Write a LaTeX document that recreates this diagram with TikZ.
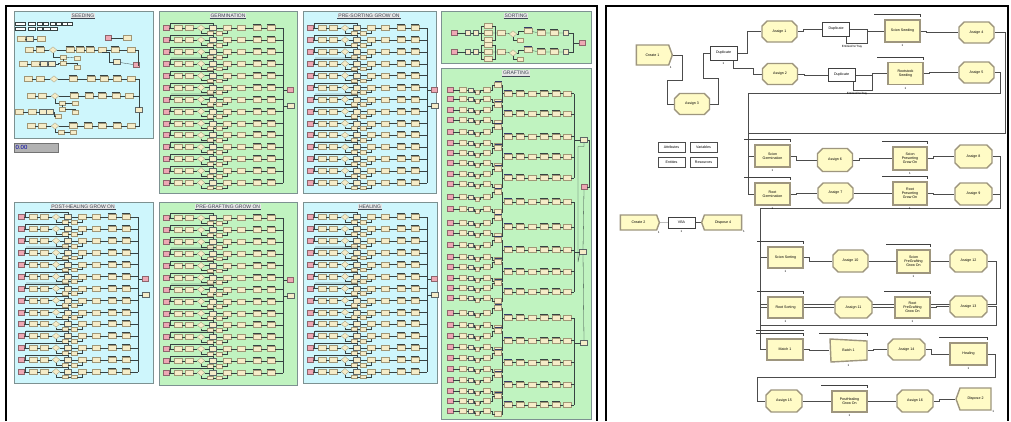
\documentclass[tikz,border=0pt]{standalone}
\usepackage{fontspec}
\setmainfont{Liberation Sans}
\usetikzlibrary{shapes.misc,shapes.symbols,shapes.geometric}
\pgfdeclarelayer{back}
\pgfdeclarelayer{bg}
\pgfsetlayers{back,bg,main}

\definecolor{cyanbg}{RGB}{206,246,252}
\definecolor{greenbg}{RGB}{192,243,192}
\definecolor{panelline}{RGB}{125,145,145}
\definecolor{beige}{RGB}{245,236,200}
\definecolor{beigeline}{RGB}{160,150,118}
\definecolor{pinkbox}{RGB}{238,168,180}
\definecolor{flow}{RGB}{55,66,66}
\definecolor{ayellow}{RGB}{255,251,198}
\definecolor{aborder}{RGB}{158,150,126}
\definecolor{titletext}{RGB}{60,70,82}
\definecolor{barblue}{RGB}{50,60,105}

\newcommand\arenafont{\fontsize{3.6}{4.1}\selectfont}
\newcommand\onefont{\fontsize{3}{3}\selectfont}

\tikzset{
 panel/.style={draw=panelline,line width=0.8pt},
 ln/.style={draw=flow,line width=0.3pt},
 bar/.style={draw=flow,line width=0.55pt},
 bx/.style={rectangle,draw=beigeline,fill=beige,line width=0.3pt,minimum width=8.5pt,minimum height=5pt,inner sep=0pt,outer sep=0pt},
 bxd/.style={bx,draw=flow!80,line width=0.4pt,minimum width=7pt},
 bxs/.style={bx,minimum width=6pt,minimum height=3.8pt},
 bxb/.style={bx,append after command={([yshift=0.9pt]\tikzlastnode.north west) edge[bar] ([yshift=0.9pt]\tikzlastnode.north east)}},
 bxB/.style={bx,append after command={([yshift=1pt]\tikzlastnode.north west) edge[draw=barblue,line width=1pt] ([yshift=1pt]\tikzlastnode.north east)}},
 pk/.style={bx,fill=pinkbox,draw=pinkbox!60!black,minimum width=6.5pt},
 dm/.style={diamond,draw=beigeline,fill=beige,line width=0.3pt,minimum width=7.5pt,minimum height=6.5pt,inner sep=0pt},
 lgd/.style={rectangle,draw=flow,fill=white,line width=0.3pt,minimum width=5pt,minimum height=3pt,inner sep=0pt},
 ttl/.style={font=\fontsize{5}{5}\selectfont,text=titletext,fill=black!10,inner sep=0.8pt},
 asg/.style={chamfered rectangle,chamfered rectangle xsep=3pt,fill=ayellow,draw=aborder,line width=1.4pt,minimum width=35pt,minimum height=21pt,inner sep=0pt,font=\arenafont},
 proc/.style={rectangle,fill=ayellow,draw=aborder,line width=1.4pt,minimum width=35pt,minimum height=22pt,inner sep=0.5pt,align=center,font=\arenafont},
 dupl/.style={rectangle,fill=white,draw=black!75,line width=0.4pt,minimum width=27pt,minimum height=14pt,inner sep=0pt,font=\arenafont},
 crt/.style={signal,signal to=east,signal pointer angle=140,fill=ayellow,draw=aborder,line width=1.4pt,minimum width=36pt,minimum height=20pt,inner sep=0pt,font=\arenafont},
 dsp/.style={crt,signal to=west},
 data/.style={rectangle,fill=white,draw=black!70,line width=0.4pt,minimum width=27pt,minimum height=10pt,inner sep=0pt,font=\arenafont},
 cn/.style={draw=black!70,line width=0.45pt},
 rbar/.style={draw=black!75,line width=0.45pt},
 one/.style={font=\onefont,inner sep=0.5pt},
 expr/.style={font=\onefont,inner sep=0pt},
}

% ---------- left panel helpers ----------
\newcommand\stdrow[3]{%
 \node[pk] (#3p) at ({#1+7},#2) {};
 \node[bx] (#3a) at ({#1+19},#2) {};
 \node[bx] (#3b) at ({#1+30},#2) {};
 \node[dm] (#3c) at ({#1+42},#2) {};
 \node[bxd] (#3d) at ({#1+54},#2) {};
 \node[bxs] (#3i) at ({#1+51},{#2+5}) {};
 \node[bxs] (#3j) at ({#1+60},{#2+5}) {};
 \node[bx] (#3e) at ({#1+68},#2) {};
 \node[bx] (#3f) at ({#1+82},#2) {};
 \node[bxb] (#3g) at ({#1+98},#2) {};
 \node[bxb] (#3h) at ({#1+112},#2) {};
 \draw[ln] (#3p)--(#3a)--(#3b)--(#3c)--(#3d)--(#3e)--(#3f)--(#3g)--(#3h)--({#1+124},#2);
 \draw[ln] (#3c.south) |- (#3i.west);
 \draw[ln] (#3i)--(#3j);
 \draw[ln] (#3j.east) -| (#3e.south);
 \draw[ln] ({#1+11},#2) -- ({#1+11},{#2-4.5}) -| (#3d.north);
}
\newcommand\rows[3]{%
 \foreach \rr in {0,...,13}{%
   \pgfmathsetmacro\yy{#2+11.9*\rr}
   \stdrow{#1}{\yy}{#3\rr}
 }
 \foreach \rr in {3,6,10}{%
   \pgfmathsetmacro\yy{#2+11.9*\rr}
   \fill[flow,opacity=0.15] ({#1+12},{\yy-6.4}) rectangle ({#1+57},{\yy-4.2});
 }
 \draw[ln,line width=0.6pt] ({#1+124},#2) -- ({#1+124},{#2+11.9*13});
 \node[pk] (#3out) at ({#1+131},{#2+62}) {};
 \node[bxd] (#3box) at ({#1+132},{#2+78}) {};
 \draw[ln] ({#1+124},{#2+62}) -- (#3out);
 \draw[ln] ({#1+124},{#2+78}) -- (#3box);
}
\newcommand\chain[3]{%
 \foreach \xx/\ty [count=\kk, remember=\kk as \prevk (initially 0)] in {#2}{%
  \node[\ty] (#3-\kk) at (\xx,#1) {};
  \ifnum\kk>1 \draw[ln] (#3-\prevk) -- (#3-\kk);\fi
 }}
\newcommand\sortrow[2]{%
 \node[pk] (#2p) at (454,#1) {};
 \node[bxd,minimum width=5pt] (#2a) at (468,#1) {};
 \node[bxd,minimum width=5pt] (#2b) at (476,#1) {};
 \node[bx] (#2s1) at (488,{#1-7}) {};
 \node[bx] (#2s2) at (488,#1) {};
 \node[bx] (#2s3) at (488,{#1+7}) {};
 \node[bx] (#2c) at (501,#1) {};
 \node[dm] (#2d) at (513,{#1+1}) {};
 \node[bxs] (#2e) at (520,{#1+7}) {};
 \node[bxB] (#2f) at (528,{#1-2}) {};
 \node[bxb] (#2g) at (541,#1) {};
 \node[bxb] (#2h) at (554,#1) {};
 \node[bxd,minimum width=5pt] (#2i) at (566,#1) {};
 \draw[ln] (#2p)--(#2a)--(#2b);
 \draw[ln] (#2b.east) -- ++(3,0) |- (#2s1.west);
 \draw[ln] (#2b.east) -- (#2s2.west);
 \draw[ln] (#2b.east) -- ++(3,0) |- (#2s3.west);
 \draw[ln] (#2s1.east) -- ++(2.5,0) |- (#2s3.east);
 \draw[ln] (#2s2)--(#2c)--(#2d);
 \draw[ln] (#2d.south) |- (#2e.west);
 \draw[ln] (#2d.east) -- ++(1.5,0) |- (#2f.west);
 \draw[ln] (#2f)--(#2g)--(#2h)--(#2i);
}
\newcommand\grin[2]{%
 \node[pk] (#2p) at (450,#1) {};
 \node[bx,minimum width=7pt] (#2a) at (463,#1) {};
 \node[bxd,minimum width=5pt,minimum height=4pt] (#2b) at (471,#1) {};
 \node[bxs,minimum width=4pt] (#2s) at (477.5,{#1+2.5}) {};
 \node[bx,minimum width=7pt] (#2c) at (487,#1) {};
 \draw[ln] (#2p)--(#2a)--(#2b);
 \draw[ln] (#2b.east) -- ++(1,0) |- (#2s.west);
 \draw[ln] (#2s.east) -- ++(1,0) |- (#2c.west);
}
\newcommand\grpair[3]{%
 \grin{#1}{#3u}
 \grin{#2}{#3d}
 \node[bxB,minimum width=7pt] (#3u4) at (498,{#1-5}) {};
 \node[bx,minimum width=7pt] (#3d4) at (498,{#2+3}) {};
 \pgfmathsetmacro\gmid{(#1+#2)/2-1}
 \node[bxB] (#3m1) at (508,\gmid) {};
 \node[bxb] (#3m2) at (520,\gmid) {};
 \node[bx] (#3m3) at (532,\gmid) {};
 \node[bxb] (#3m4) at (544,\gmid) {};
 \node[bxb] (#3m5) at (556,\gmid) {};
 \node[bx] (#3m6) at (567,\gmid) {};
 \draw[ln] (#3uc.east) -- ++(1.5,0) |- (#3u4.west);
 \draw[ln] (#3dc.east) -- ++(1.5,0) |- (#3d4.west);
 \draw[ln] (#3u4.east) -- ++(1,0) |- (#3m1.west);
 \draw[ln] (#3d4.east) -- ++(1,0) |- (#3m1.west);
 \draw[ln] (#3m1)--(#3m2)--(#3m3)--(#3m4)--(#3m5)--(#3m6)--(574,\gmid);
}
% ---------- right panel helpers ----------
\newcommand\arenajog[2]{\draw[cn] (#1.east) -- ++(6,0) |- (#2.west);}
\newcommand\resbar[1]{\draw[rbar] ([xshift=-10pt,yshift=5pt]#1.north west) -- ([yshift=5pt]#1.north east) -- ++(0,-3pt);}

\begin{document}
\begin{tikzpicture}[x=1pt,y=-1pt]
\useasboundingbox (0,0) rectangle (1011,421);
\begin{pgfonlayer}{back}
\fill[white] (0,0) rectangle (1011,421);
\end{pgfonlayer}

% ================= LEFT PANEL =================
\filldraw[panel,fill=cyanbg] (14,11) rectangle (153,138);
\filldraw[panel,fill=greenbg] (159,11) rectangle (297,193);
\filldraw[panel,fill=cyanbg] (303,11) rectangle (436,193);
\filldraw[panel,fill=greenbg] (441,11) rectangle (591,63);
\filldraw[panel,fill=greenbg] (441,68) rectangle (591,419);
\filldraw[panel,fill=cyanbg] (14,202) rectangle (153,383);
\filldraw[panel,fill=greenbg] (159,202) rectangle (297,385);
\filldraw[panel,fill=cyanbg] (303,202) rectangle (437,383);

\node[ttl] (tseed) at (83,15.5) {SEEDING};
\node[ttl] (tgerm) at (228,15.5) {GERMINATION};
\node[ttl] (tpres) at (369,15.5) {PRE-SORTING GROW ON};
\node[ttl] (tsort) at (516,15.5) {SORTING};
\node[ttl] (tgraft) at (516,73) {GRAFTING};
\node[ttl] (tpost) at (83,206.5) {POST-HEALING GROW ON};
\node[ttl] (tpreg) at (228,206.5) {PRE-GRAFTING GROW ON};
\node[ttl] (theal) at (370,206.5) {HEALING};
\foreach \t in {tseed,tgerm,tpres,tsort,tgraft,tpost,tpreg,theal}
  \draw[titletext,line width=0.3pt] (\t.south west) -- (\t.south east);

% clock display
\node[draw=black!55,fill=black!30,minimum width=44pt,minimum height=9pt,inner sep=0pt] (clockbox) at (36,147.5) {};
\node[anchor=west,text=blue!65!black,font=\fontsize{6}{6}\selectfont,inner sep=0pt] (clocktxt) at (15.5,147.5) {0.00};

% SEEDING contents
\foreach \xx/\ww [count=\kk] in {20/10,31.5/7,39.5/5,45.5/5,52.5/5,58.5/5,64.5/5,69.5/5}
  \node[lgd,minimum width=\ww pt] (sla\kk) at (\xx,24) {};
\foreach \xx/\ww [count=\kk] in {20/10,31.5/7,39.5/5,46.5/7,53.5/7}
  \node[lgd,minimum width=\ww pt] (slb\kk) at (\xx,29) {};
\chain{39}{21/bx,30/bxd,41/bx}{sa}
\node[pk] (sapk) at (108,38) {};
\node[bx] (sabx) at (127,38) {};
\draw[ln] (sapk) -- (sabx);
\chain{50}{29/bx,40/bxb,53/dm,70/bxb,80/bxb,90/bxb,102/bx,115/bxb,131/bx}{sb}
\node[bxs] (sbb1) at (63,57) {};
\node[bxs] (sbb2) at (77,58) {};
\node[bxs] (sbb3) at (63,63) {};
\node[bxs] (sbb4) at (77,67) {};
\draw[ln] (sb-3.south) |- (sbb1.west);
\draw[ln] (sbb1) -- (sbb2);
\draw[ln] (sbb1.south) -- (sbb3.north);
\draw[ln] (sbb3.east) -| (sbb4.north);
\chain{64}{23/bx,35/bx,44/bxd,52/bxd}{sc}
\draw[ln] (sc-4.east) -- ++(3,0) |- (sbb3.west);
\node[bxd] (sr1) at (117,62) {};
\node[pk] (sr2) at (136,65) {};
\draw[ln] (sb-9.east) -- ++(3,0) |- (sr2.east);
\draw[ln] (sr1) -- (sr2);
\draw[ln] (sr1.west) -- ++(-4,0) |- (sb-7.south);
\chain{79}{28/bx,40/bx,54/dm,73/bxb,91/bxb,104/bxb,117/bxb,131/bx}{sd}
\chain{96}{31/bx,42/bx,55/dm,74/bxb,89/bxb,102/bxb,116/bxb,129/bx}{se}
\node[bxs] (seb1) at (62,103) {};
\node[bxs] (seb2) at (75,103) {};
\node[bxs] (seb3) at (62,109) {};
\node[bxs] (seb4) at (75,112) {};
\draw[ln] (se-3.south) |- (seb1.west);
\draw[ln] (seb1) -- (seb2);
\draw[ln] (seb1.south) -- (seb3.north);
\draw[ln] (seb3.east) -| (seb4.north);
\chain{112}{19/bx,32/bx,43/bxd,50/bxd}{sf}
\node[bxs] (sfb) at (58,116) {};
\draw[ln] (sf-4.east) -- ++(1,0) |- (sfb.west);
\chain{126}{31/bx,42/bx,55/dm,73/bxb,88/bxb,102/bxb,117/bxb,131/bx}{sg}
\node[bxs] (sgb1) at (61,132) {};
\node[bxs] (sgb2) at (73,132) {};
\draw[ln] (sg-3.south) |- (sgb1.west);
\draw[ln] (sgb1) -- (sgb2);
\draw[ln] (sd-8.east) -- ++(4,0) |- (sg-8.east);
\node[bxd] (sbx) at (139,110) {};
\draw[ln] (se-8.east) -| (sbx.north);

% standard panels
\rows{159}{28}{gm}
\rows{303}{28}{ps}
\rows{14}{217}{ph}
\rows{159}{218}{pg}
\rows{303}{217}{hl}

% SORTING
\sortrow{33}{soa}
\sortrow{52}{sob}
\node[pk] (soout) at (582,43) {};
\draw[ln] (soai.east) -- ++(5,0) |- (sobi.east);
\draw[ln] (sobi.east) -- ++(5,0) |- (soout.west);

% GRAFTING
\foreach \ya/\yb [count=\kk] in {90/99,110/120,132/143,153/163,174/184}
  {\grpair{\ya}{\yb}{gA\kk}}
\foreach \ya/\yb [count=\kk] in {197/209,223/233,245/257,267/278,288/298}
  {\grpair{\ya}{\yb}{gB\kk}}
\foreach \ya/\yb [count=\kk] in {313/325,336/347,358/369,380/391,401/411}
  {\grpair{\ya}{\yb}{gC\kk}}
\draw[ln,line width=0.6pt] (574,93.5) -- (574,178);
\draw[ln,line width=0.6pt] (574,202) -- (574,292);
\draw[ln,line width=0.6pt] (574,318) -- (574,405);
\node[bxd] (gout1) at (584,140) {};
\node[pk] (gpink) at (584,187) {};
\node[bxd] (gout2) at (583,252) {};
\node[bxd] (gout3) at (584,343) {};
\draw[ln] (574,140) -- (gout1.west);
\draw[ln] (574,252) -- (gout2.west);
\draw[ln] (574,343) -- (gout3.west);
\draw[ln] (gout1.east) -- ++(2,0) |- (gpink.east);
\draw[ln] (gpink.south) -- (gout2.north);
\draw[ln] (gout3.north) -- (gout2.south);
\draw[ln] (gout1.south) -- ++(0,4) -| (578,262) -- (gout2.south west);

% frames
\draw[line width=2.4pt] (6,421) -- (6,6) -- (597,6) -- (597,421);
\draw[line width=2.4pt] (606,421) -- (606,6) -- (1008,6) -- (1008,421);

% ================= RIGHT PANEL =================
\node[crt,label={[one]south east:1}] (create1) at (652.5,55) {Create 1};
\node[asg] (assign3) at (692,104) {Assign 3};
\node[dupl,label={[one,yshift=-2pt]below:1}] (dup1) at (723.5,53) {Duplicate};
\node[asg] (assign1) at (779.5,31.5) {Assign 1};
\node[dupl,minimum height=14pt] (dup2) at (836,29) {Duplicate};
\node[proc,label={[one,yshift=-1.5pt]below:1}] (scionseed) at (902.5,31) {Scion Seeding};
\node[asg] (assign4) at (976.5,32.5) {Assign 4};
\node[asg] (assign2) at (780,74) {Assign 2};
\node[dupl,minimum height=13pt] (dup3) at (841.5,75) {Duplicate};
\node[proc,label={[one,yshift=-1.5pt]below:1}] (rootseed) at (905.5,73.5) {Rootstock\\Seeding};
\node[asg] (assign5) at (976.5,72.5) {Assign 5};
\node[expr] (exp1) at (852,47) {EntitiesPerTray};
\node[expr] (exp2) at (857,94) {EntitiesPerTray};

\node[data] (attr) at (671.5,147) {Attributes};
\node[data] (vars) at (703.5,147) {Variables};
\node[data] (ents) at (671.5,162) {Entities};
\node[data] (ress) at (703.5,162) {Resources};

\node[crt,minimum width=39pt,minimum height=15pt,label={[one]south east:1}] (create2) at (638.5,222.5) {Create 2};
\node[dupl,minimum height=11pt,label={[one,yshift=-1.5pt]below:1}] (vba) at (681.5,222.5) {VBA};
\node[dsp,minimum width=40pt,minimum height=15pt,label={[one]south east:1}] (dispose4) at (723,222.5) {Dispose 4};

\node[proc,label={[one,yshift=-1.5pt]below:1}] (scionger) at (772.5,156) {Scion\\Germination};
\node[proc,label={[one,yshift=-1.5pt]below:1}] (rootger) at (772.5,194) {Root\\Germination};
\node[asg,minimum height=23pt] (assign6) at (835,160) {Assign 6};
\node[asg,minimum height=20pt] (assign7) at (835.5,193) {Assign 7};
\node[proc,minimum width=34pt,minimum height=23pt,label={[one,yshift=-1.5pt]below:1}] (scionps) at (910,158.5) {Scion\\Presorting\\Grow On};
\node[proc,minimum width=34pt,minimum height=23pt,label={[one,yshift=-1.5pt]below:1}] (rootps) at (910,193.5) {Root\\Presorting\\Grow On};
\node[asg,minimum width=37pt,minimum height=23pt] (assign8) at (973.5,156.5) {Assign 8};
\node[asg,minimum width=37pt,minimum height=22pt] (assign9) at (973.5,194) {Assign 9};

\node[proc,minimum height=21pt,label={[one,yshift=-1.5pt]below:1}] (scionsort) at (785.5,257.5) {Scion Sorting};
\node[asg,minimum height=22pt] (assign10) at (850.5,261) {Assign 10};
\node[proc,minimum width=33pt,minimum height=23pt,label={[one,yshift=-1.5pt]below:1}] (scionpg) at (913.5,261.5) {Scion\\PreGrafting\\Grow On};
\node[asg,minimum width=37pt,minimum height=22pt] (assign12) at (968.5,261) {Assign 12};
\node[proc,minimum height=21pt,label={[one,yshift=-1.5pt]below:1}] (rootsort) at (785.5,307.5) {Root Sorting};
\node[asg,minimum width=37pt] (assign11) at (853.5,307.5) {Assign 11};
\node[proc,minimum height=21pt,label={[one,yshift=-1.5pt]below:1}] (rootpg) at (912.5,307.5) {Root\\PreGrafting\\Grow On};
\node[asg,minimum width=37pt] (assign13) at (968.5,306.5) {Assign 13};

\node[proc,minimum width=36pt,minimum height=21pt] (match1) at (785,349.5) {Match 1};
\fill[ayellow,draw=aborder,line width=1.4pt] (830,339) -- (867,341) -- (867,360) -- (831,362) -- cycle;
\node[proc,fill=none,draw=none,minimum width=37pt,minimum height=23pt,label={[one,yshift=-1.5pt]below:1}] (batch1) at (848.5,350.5) {Batch 1};
\node[asg,minimum width=37pt] (assign14) at (906.5,349.5) {Assign 14};
\node[proc,minimum width=37pt,minimum height=22pt,label={[one,yshift=-1.5pt]below:1}] (healing) at (968.5,354) {Healing};
\node[asg,minimum width=36pt,minimum height=22pt] (assign15) at (784,401) {Assign 15};
\node[proc,minimum height=21pt,label={[one,yshift=-1.5pt]below:1}] (posthealing) at (849.5,401.5) {PostHealing\\Grow On};
\node[asg,minimum width=36pt,minimum height=22pt] (assign16) at (915,401) {Assign 16};
\node[dsp,minimum width=35pt,minimum height=22pt,label={[one]south east:1}] (dispose2) at (975.5,399) {Dispose 2};

% resource bars
\foreach \n in {scionseed,rootseed,scionger,rootger,scionps,rootps,scionsort,scionpg,rootsort,rootpg,batch1,healing,posthealing,match1}
  {\resbar{\n}}
\draw[rbar] ([xshift=-10pt,yshift=8pt]match1.north west) -- ([yshift=8pt]match1.north east);

% connectors (behind the modules)
\begin{pgfonlayer}{bg}
\draw[cn] (create1.east) -- ++(9,0) |- (667,80) |- (assign3.west);
\draw[cn] (assign3.east) -- ++(8,0) |- (703,78) |- (dup1.west);
\draw[cn] (dup1.east) -- ++(10,0) |- (assign1.west);
\draw[cn] ([xshift=-4pt]dup1.south east) -- ++(0,8) -- ++(20,0) |- (assign2.west);
\arenajog{assign1}{dup2}
\draw[cn] (dup2.east) -- (867,29) |- (scionseed.west);
\draw[cn] ([xshift=-3pt]dup2.south east) |- (867,43) -- (867,29);
\arenajog{assign2}{dup3}
\draw[cn] (dup3.east) -- (872,75) |- (rootseed.west);
\draw[cn] ([xshift=-2pt]dup3.south east) |- (872,90) -- (872,75);
\arenajog{scionseed}{assign4}
\arenajog{rootseed}{assign5}
\draw[cn] (assign4.east) -| (1005,133) -- (748,133) |- (scionger.west);
\draw[cn] (assign5.east) -| (1000,93) -- (748,93) |- (rootger.west);
\draw[cn] (create2) -- (vba);
\draw[cn] (vba) -- (dispose4);
\arenajog{scionger}{assign6}
\arenajog{assign6}{scionps}
\arenajog{scionps}{assign8}
\arenajog{rootger}{assign7}
\arenajog{assign7}{rootps}
\arenajog{rootps}{assign9}
\draw[cn] (assign8.east) -| (1000,208) -- (760,208) |- (scionsort.west);
\draw[cn] (assign9.east) -| (1000,208) -- (760,208) |- (rootsort.west);
\arenajog{scionsort}{assign10}
\arenajog{assign10}{scionpg}
\arenajog{scionpg}{assign12}
\arenajog{rootsort}{assign11}
\arenajog{assign11}{rootpg}
\arenajog{rootpg}{assign13}
\draw[cn] (assign12.east) -| (996,304) -- (760,304) |- (match1.west);
\draw[cn] (assign13.east) -| (996,325) -- (760,325) |- (match1.west);
\arenajog{match1}{batch1}
\arenajog{batch1}{assign14}
\arenajog{assign14}{healing}
\draw[cn] (healing.east) -| (995,377) -- (757,377) |- (assign15.west);
\arenajog{assign15}{posthealing}
\arenajog{posthealing}{assign16}
\arenajog{assign16}{dispose2}
\end{pgfonlayer}
\end{tikzpicture}
\end{document}
